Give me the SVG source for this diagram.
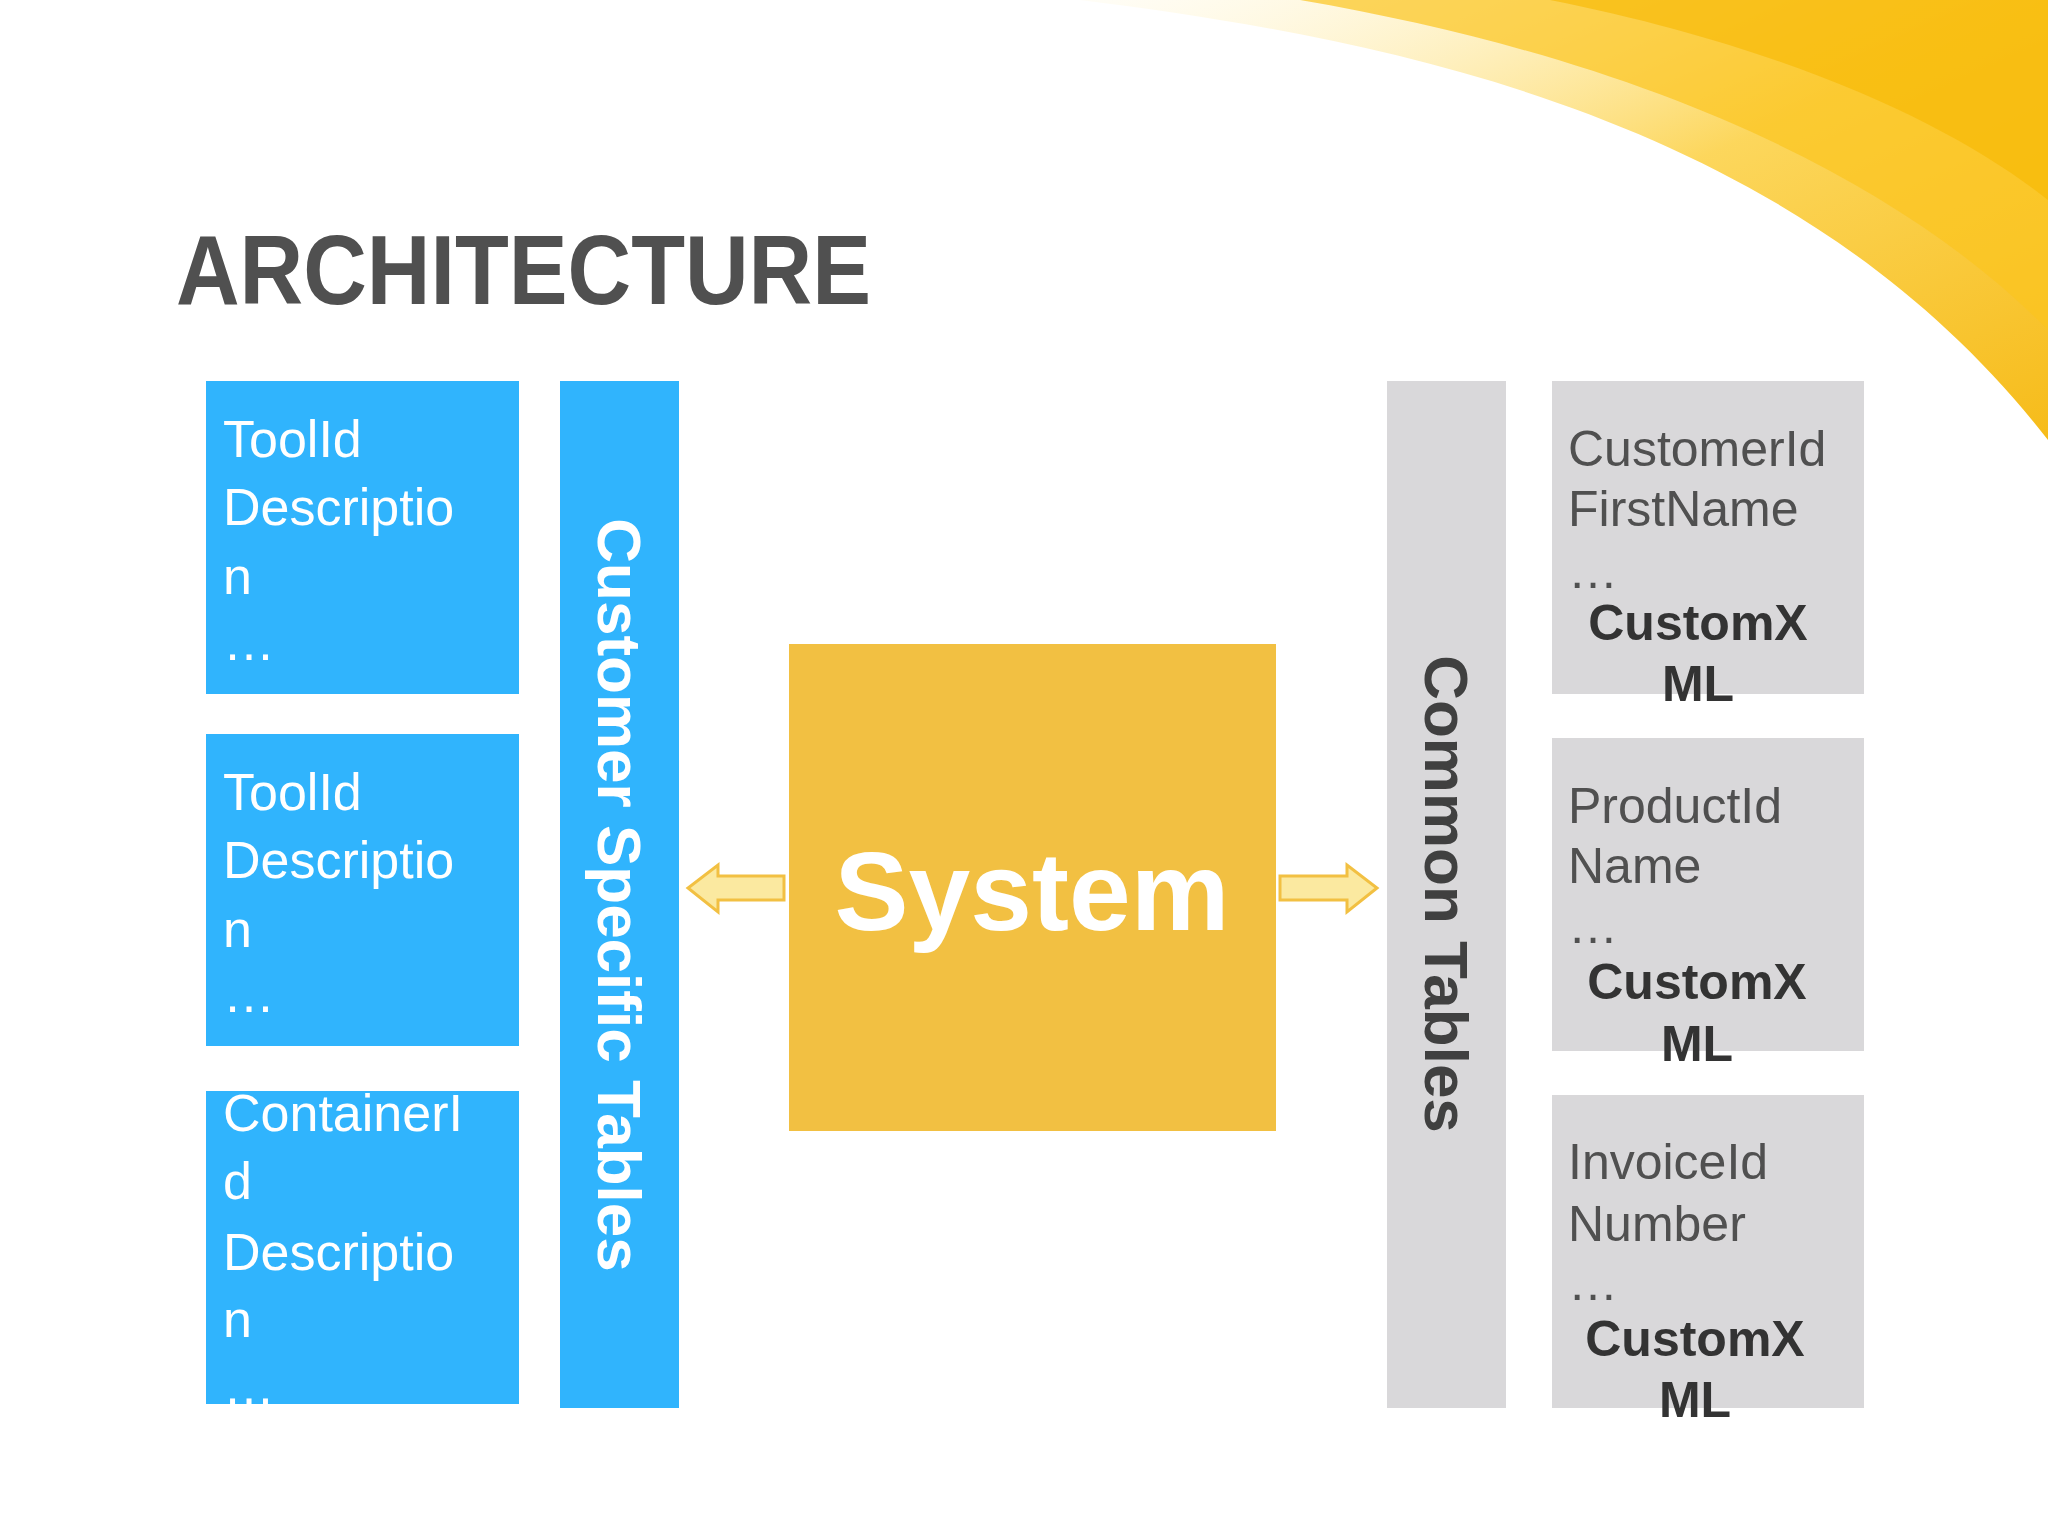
<svg xmlns="http://www.w3.org/2000/svg" width="2048" height="1536" viewBox="0 0 2048 1536">
<defs>
<linearGradient id="sw" x1="0" y1="0" x2="1" y2="1">
<stop offset="0" stop-color="#FFF6D0" stop-opacity="0.2"/>
<stop offset="0.5" stop-color="#FCD24A"/>
<stop offset="1" stop-color="#F5B400"/>
</linearGradient>
<clipPath id="c3"><rect x="206" y="1091" width="313" height="313"/></clipPath>
</defs>
<style>
.bl{fill:#30B4FD}
.gr{fill:#D9D8DA}
.wt{font-family:"Liberation Sans",Arial,sans-serif;font-size:52px;fill:#FFFFFF}
.gt{font-family:"Liberation Sans",Arial,sans-serif;font-size:50px;fill:#505050}
.gb{font-family:"Liberation Sans",Arial,sans-serif;font-size:50px;fill:#333333;font-weight:bold;text-anchor:middle}
.ar{fill:#FBE9A0;stroke:#F2C042;stroke-width:3}
</style>
<rect width="2048" height="1536" fill="#FFFFFF"/>
<path d="M1080,0 C1400,40 1800,120 2048,440 L2048,0 Z" fill="url(#sw)" opacity="0.9"/>
<path d="M1300,0 C1650,60 1900,180 2048,330 L2048,0 Z" fill="#FBC520" opacity="0.7"/>
<path d="M1550,0 C1800,50 1960,130 2048,200 L2048,0 Z" fill="#F7B800" opacity="0.6"/>
<text x="176" y="304" font-family="Liberation Sans,Arial,sans-serif" font-weight="bold" font-size="98" fill="#505050" textLength="695" lengthAdjust="spacingAndGlyphs">ARCHITECTURE</text>
<g id="tool1"><rect class="bl" x="206" y="381" width="313" height="313"/>
<text class="wt" x="223" y="457">ToolId</text><text class="wt" x="223" y="525">Descriptio</text><text class="wt" x="223" y="594">n</text><text class="wt" x="223" y="660">…</text></g>
<g id="tool2"><rect class="bl" x="206" y="734" width="313" height="312"/>
<text class="wt" x="223" y="810">ToolId</text><text class="wt" x="223" y="878">Descriptio</text><text class="wt" x="223" y="947">n</text><text class="wt" x="223" y="1012">…</text></g>
<g id="container"><rect class="bl" x="206" y="1091" width="313" height="313"/>
<g clip-path="url(#c3)"><text class="wt" x="223" y="1131">ContainerI</text><text class="wt" x="223" y="1199">d</text><text class="wt" x="223" y="1270">Descriptio</text><text class="wt" x="223" y="1337">n</text><text class="wt" x="223" y="1404">…</text></g></g>
<g id="customer-tables"><rect class="bl" x="560" y="381" width="119" height="1027"/>
<text transform="translate(598,895) rotate(90)" text-anchor="middle" font-family="Liberation Sans,Arial,sans-serif" font-weight="bold" font-size="62" fill="#FFFFFF">Customer Specific Tables</text></g>
<g id="system"><rect x="789" y="644" width="487" height="487" fill="#F2C042"/>
<text x="1032" y="930" text-anchor="middle" font-family="Liberation Sans,Arial,sans-serif" font-weight="bold" font-size="111" fill="#FFFFFF">System</text></g>
<g id="common-tables"><rect class="gr" x="1387" y="381" width="119" height="1027"/>
<text transform="translate(1425,894) rotate(90)" text-anchor="middle" font-family="Liberation Sans,Arial,sans-serif" font-weight="bold" font-size="62" fill="#404040">Common Tables</text></g>
<g id="customer"><rect class="gr" x="1552" y="381" width="312" height="313"/>
<text class="gt" x="1568" y="466">CustomerId</text><text class="gt" x="1568" y="526">FirstName</text><text class="gt" x="1568" y="588">…</text><text class="gb" x="1698" y="640">CustomX</text><text class="gb" x="1698" y="701">ML</text></g>
<g id="product"><rect class="gr" x="1552" y="738" width="312" height="313"/>
<text class="gt" x="1568" y="823">ProductId</text><text class="gt" x="1568" y="883">Name</text><text class="gt" x="1568" y="943">…</text><text class="gb" x="1697" y="999">CustomX</text><text class="gb" x="1697" y="1061">ML</text></g>
<g id="invoice"><rect class="gr" x="1552" y="1095" width="312" height="313"/>
<text class="gt" x="1568" y="1179">InvoiceId</text><text class="gt" x="1568" y="1241">Number</text><text class="gt" x="1568" y="1300">…</text><text class="gb" x="1695" y="1356">CustomX</text><text class="gb" x="1695" y="1417">ML</text></g>
<g id="connectors">
<path class="ar" d="M784,876 L718,876 L718,865 L688,888 L718,912 L718,900 L784,900 Z"/>
<path class="ar" d="M1280,876 L1347,876 L1347,865 L1377,888 L1347,912 L1347,900 L1280,900 Z"/>
</g>
</svg>
